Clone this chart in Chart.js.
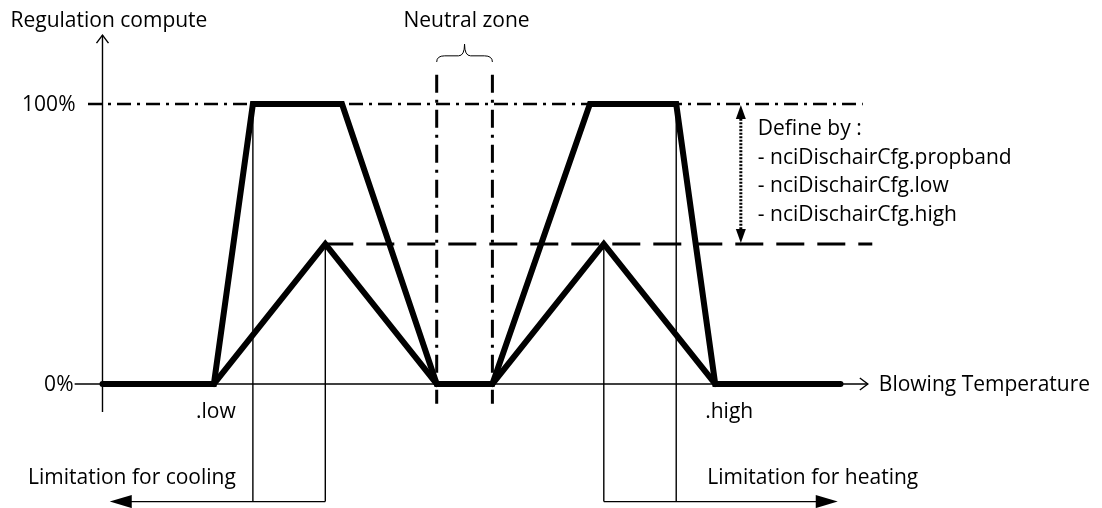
<!DOCTYPE html>
<html>
<head>
<meta charset="utf-8">
<script src="https://cdn.jsdelivr.net/npm/chart.js@4.4.1/dist/chart.umd.min.js"></script>
<style>
  html, body { margin: 0; padding: 0; background: #fff; }
  canvas { display: block; }
</style>
</head>
<body>
<canvas id="chart" width="1102" height="508"></canvas>
<script>
// Regulation compute vs blowing temperature
// x = temperature units (0 at the vertical axis), y = regulation output in %

// main output: cooling ramp, neutral zone, heating ramp
const mainTemp = [0, 20, 27, 43, 60, 70, 87.5, 103, 110, 132.5];
const mainOutput = [0, 0, 100, 100, 0, 0, 100, 100, 0, 0];

// limited output (triangles up to the limitation level)
const coolLimitTemp = [20, 40, 60];
const heatLimitTemp = [70, 90, 110];
const limitOutput = [0, 50, 0];

const fullLevel = 100;
const limitLevel = 50;
const neutralZone = [60, 70];
const lowTemp = 20;
const highTemp = 110;
const coolMarks = [27, 40];     // thin drop lines, cooling side
const heatMarks = [90, 103];    // thin drop lines, heating side
const limitArrowLevel = -42;    // level of the "Limitation for ..." arrows
const coolArrowEnd = 1.3;
const heatArrowEnd = 132;
const fullLineSpan = [-2.6, 136.5];
const limitLineSpan = [40, 138.2];
const neutralSpan = [110.4, -7.1];
const xAxisSpan = [-5, 137.4];
const yAxisSpan = [-10, 124.6];
const defineTemp = 114.6;

const yTickLabels = ['100%', '0%'];
const axisTitles = ['Regulation compute', 'Blowing Temperature'];
const pointLabels = ['.low', '.high'];
const zoneTitle = 'Neutral zone';
const limitTitles = ['Limitation for cooling', 'Limitation for heating'];
const defineLines = ['Define by :', '- nciDischairCfg.propband', '- nciDischairCfg.low', '- nciDischairCfg.high'];

const FONT = '21px "Open Sans", Lato, sans-serif';

const pts = (xs, ys) => xs.map((x, i) => ({ x: x, y: ys[i] }));
const seg = (x1, y1, x2, y2) => [{ x: x1, y: y1 }, { x: x2, y: y2 }];

function line(data, width, dash) {
    return {
        data: data,
        showLine: true,
        borderColor: '#000',
        borderWidth: width,
        borderDash: dash || [],
        borderCapStyle: 'butt',
        borderJoinStyle: 'miter',
        pointRadius: 0,
        pointHoverRadius: 0,
        tension: 0,
        fill: false
    };
}

const thick = d => Object.assign(line(d, 6), { borderCapStyle: 'round' });
const thin = d => line(d, 1.4);

const datasets = [
    thick(pts(mainTemp, mainOutput)),
    thick(pts(coolLimitTemp, limitOutput)),
    thick(pts(heatLimitTemp, limitOutput)),
    line(seg(fullLineSpan[0], fullLevel, fullLineSpan[1], fullLevel), 2.6, [14, 6, 3, 6]),
    line(seg(limitLineSpan[0], limitLevel, limitLineSpan[1], limitLevel), 3, [28, 13]),
    line(seg(neutralZone[0], neutralSpan[0], neutralZone[0], neutralSpan[1]), 3, [18, 7, 3, 7]),
    line(seg(neutralZone[1], neutralSpan[0], neutralZone[1], neutralSpan[1]), 3, [18, 7, 3, 7]),
    line(seg(defineTemp, fullLevel - 4, defineTemp, limitLevel + 4), 3, [2, 1.5]),
    thin(seg(coolMarks[0], fullLevel, coolMarks[0], limitArrowLevel)),
    thin(seg(coolMarks[1], limitLevel, coolMarks[1], limitArrowLevel)),
    thin(seg(coolMarks[1], limitArrowLevel, coolArrowEnd + 3, limitArrowLevel)),
    thin(seg(heatMarks[0], limitLevel, heatMarks[0], limitArrowLevel)),
    thin(seg(heatMarks[1], fullLevel, heatMarks[1], limitArrowLevel)),
    thin(seg(heatMarks[0], limitArrowLevel, heatArrowEnd - 3, limitArrowLevel)),
    thin(seg(0, yAxisSpan[0], 0, yAxisSpan[1])),
    thin(seg(xAxisSpan[0], 0, xAxisSpan[1], 0))
];

// arrow heads, brace and all texts
const decorations = {
    id: 'decorations',
    afterDatasetsDraw(chart) {
        const ctx = chart.ctx;
        const sx = chart.scales.x, sy = chart.scales.y;
        const px = v => sx.getPixelForValue(v);
        const py = v => sy.getPixelForValue(v);

        ctx.save();
        ctx.strokeStyle = '#000';
        ctx.fillStyle = '#000';
        ctx.lineWidth = 1.4;

        // open chevrons on the axes
        const ax = px(0), ayTop = py(yAxisSpan[1]);
        ctx.beginPath();
        ctx.moveTo(ax - 6, ayTop + 8); ctx.lineTo(ax, ayTop); ctx.lineTo(ax + 6, ayTop + 8);
        ctx.stroke();
        const xr = px(xAxisSpan[1]), y0 = py(0);
        ctx.beginPath();
        ctx.moveTo(xr - 8, y0 - 6); ctx.lineTo(xr, y0); ctx.lineTo(xr - 8, y0 + 6);
        ctx.stroke();

        // filled arrow heads
        function head(x, y, dx, dy, len, half) {
            ctx.beginPath();
            ctx.moveTo(x, y);
            ctx.lineTo(x - dx * len - dy * half, y - dy * len - dx * half);
            ctx.lineTo(x - dx * len + dy * half, y - dy * len + dx * half);
            ctx.closePath();
            ctx.fill();
        }
        const ya = py(limitArrowLevel);
        head(px(coolArrowEnd), ya, -1, 0, 22, 6.5);
        head(px(heatArrowEnd), ya, 1, 0, 22, 6.5);
        const xd = px(defineTemp);
        head(xd, py(fullLevel) + 1, 0, -1, 14, 5);
        head(xd, py(limitLevel) - 1, 0, 1, 14, 5);

        // brace over the neutral zone
        const bl = px(neutralZone[0]), br = px(neutralZone[1]), bc = (bl + br) / 2;
        const bEnd = py(115), bMid = py(117.2), bTop = py(121.4);
        ctx.lineWidth = 1;
        ctx.beginPath();
        ctx.moveTo(bl, bEnd);
        ctx.quadraticCurveTo(bl, bMid, bl + 8, bMid);
        ctx.lineTo(bc - 6, bMid);
        ctx.quadraticCurveTo(bc, bMid, bc, bTop);
        ctx.quadraticCurveTo(bc, bMid, bc + 6, bMid);
        ctx.lineTo(br - 8, bMid);
        ctx.quadraticCurveTo(br, bMid, br, bEnd);
        ctx.stroke();

        // texts
        ctx.font = FONT;
        ctx.textBaseline = 'alphabetic';
        function text(s, x, y, align) {
            ctx.textAlign = align;
            ctx.fillText(s, x, y);
        }
        text(axisTitles[0], ax - 92, ayTop - 8, 'left');
        text(zoneTitle, bc + 2, ayTop - 8, 'center');
        text(yTickLabels[0], ax - 27, py(fullLevel) + 7, 'right');
        text(yTickLabels[1], ax - 29, y0 + 7, 'right');
        text(axisTitles[1], xr + 11, y0 + 7, 'left');
        text(pointLabels[0], px(lowTemp) + 2, y0 + 34, 'center');
        text(pointLabels[1], px(highTemp) - 10, y0 + 34, 'left');
        text(limitTitles[0], px(coolMarks[0]) - 17, ya - 18, 'right');
        text(limitTitles[1], px(heatMarks[1]) + 31, ya - 18, 'left');
        defineLines.forEach((s, i) => {
            text(s, xd + 17, py(fullLevel) + 31 + i * 28.7, 'left');
        });
        ctx.restore();
    }
};

new Chart(document.getElementById('chart'), {
    type: 'scatter',
    data: { datasets: datasets },
    options: {
        responsive: false,
        animation: false,
        layout: { padding: 0 },
        plugins: {
            legend: { display: false },
            tooltip: { enabled: false }
        },
        events: [],
        scales: {
            x: { type: 'linear', display: false, min: -18.4, max: 179.44 },
            y: { type: 'linear', display: false, min: -44.29, max: 137.14 }
        }
    },
    plugins: [decorations]
});
</script>
</body>
</html>
